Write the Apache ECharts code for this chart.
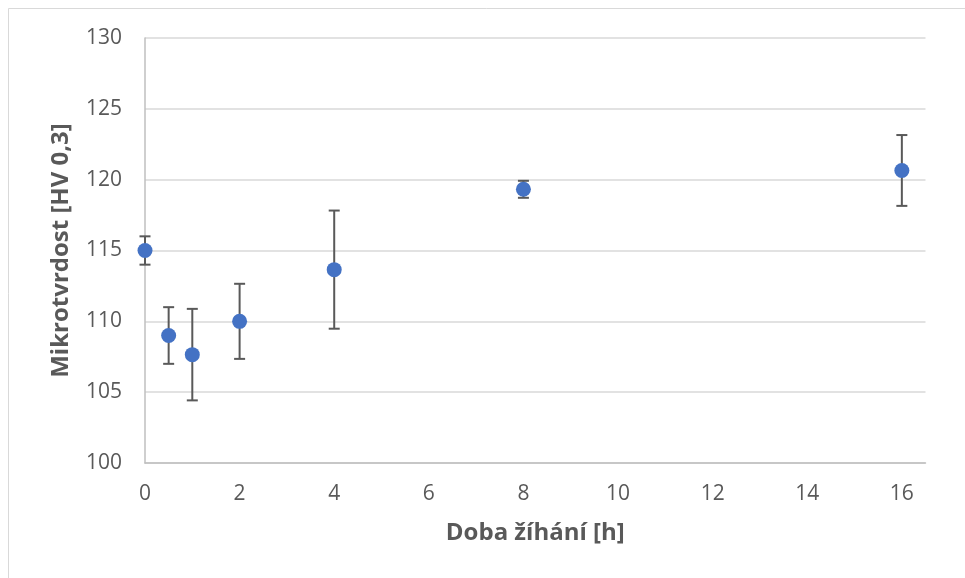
<!DOCTYPE html>
<html>
<head>
<meta charset="utf-8">
<script src="https://cdn.jsdelivr.net/npm/echarts@6/dist/echarts.min.js"></script>
<style>
html,body{margin:0;padding:0;background:#fff;}
#chart{width:965px;height:578px;}
</style>
</head>
<body>
<div id="chart"></div>
<script>
// Data
const xHours = [0, 0.5, 1, 2, 4, 8, 16];
const hardness = [115.0, 109.0, 107.65, 110.0, 113.65, 119.32, 120.65];
const hardnessErr = [1.0, 2.0, 3.23, 2.65, 4.17, 0.6, 2.5];
const yTicks = [100, 105, 110, 115, 120, 125, 130];
const xTitle = 'Doba žíhání [h]';
const yTitle = 'Mikrotvrdost [HV 0,3]';

const points = xHours.map((x, i) => [x, hardness[i]]);
const errData = xHours.map((x, i) => [x, hardness[i] - hardnessErr[i], hardness[i] + hardnessErr[i]]);

const FONT = '"Open Sans", "Liberation Sans", sans-serif';
const chart = echarts.init(document.getElementById('chart'), null, {renderer: 'canvas'});
chart.setOption({
  animation: false,
  backgroundColor: '#fff',
  grid: {left: 145, top: 38, right: 39.5, bottom: 115, containLabel: false},
  graphic: [
    {type: 'line', shape: {x1: 8.5, y1: 8.5, x2: 965, y2: 8.5}, style: {stroke: '#d9d9d9', lineWidth: 1}},
    {type: 'line', shape: {x1: 8.5, y1: 8.5, x2: 8.5, y2: 578}, style: {stroke: '#d9d9d9', lineWidth: 1}}
  ],
  xAxis: {
    type: 'value', min: 0, max: 16.5, interval: 2,
    name: xTitle, nameLocation: 'middle', nameGap: 58,
    nameTextStyle: {fontFamily: FONT, fontSize: 24, fontWeight: 'bold', color: '#595959'},
    axisLine: {show: true, lineStyle: {color: '#bfbfbf', width: 1.5}},
    axisTick: {show: false},
    splitLine: {show: false},
    axisLabel: {
      fontFamily: FONT, fontSize: 21, color: '#595959', margin: 21,
      formatter: v => (Math.abs(v % 2) < 1e-9 ? String(v) : '')
    }
  },
  yAxis: {
    type: 'value', min: yTicks[0], max: yTicks[yTicks.length - 1], interval: 5,
    name: yTitle, nameLocation: 'middle', nameGap: 72, nameRotate: 90,
    nameTextStyle: {fontFamily: FONT, fontSize: 24, fontWeight: 'bold', color: '#595959'},
    axisLine: {show: true, lineStyle: {color: '#bfbfbf', width: 1.5}},
    axisTick: {show: false},
    splitLine: {show: true, lineStyle: {color: '#d9d9d9', width: 1.5}},
    axisLabel: {fontFamily: FONT, fontSize: 21, color: '#595959', margin: 23}
  },
  series: [
    {
      type: 'custom',
      data: errData,
      z: 2,
      renderItem: function (params, api) {
        const x = api.value(0);
        const lo = api.coord([x, api.value(1)]);
        const hi = api.coord([x, api.value(2)]);
        const hw = 5.5;
        const st = {stroke: '#595959', lineWidth: 2};
        return {
          type: 'group',
          children: [
            {type: 'line', shape: {x1: lo[0], y1: lo[1], x2: hi[0], y2: hi[1]}, style: st},
            {type: 'line', shape: {x1: lo[0] - hw, y1: lo[1], x2: lo[0] + hw, y2: lo[1]}, style: st},
            {type: 'line', shape: {x1: hi[0] - hw, y1: hi[1], x2: hi[0] + hw, y2: hi[1]}, style: st}
          ]
        };
      }
    },
    {
      type: 'scatter',
      data: points,
      symbol: 'circle',
      symbolSize: 15,
      z: 3,
      itemStyle: {color: '#4472C4', opacity: 1}
    }
  ]
});
</script>
</body>
</html>
